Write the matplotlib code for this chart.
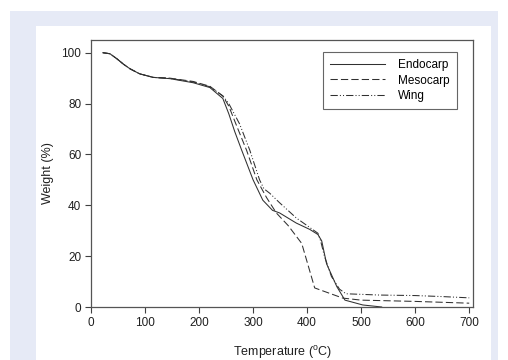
import matplotlib.pyplot as plt
from matplotlib.patches import Rectangle

plt.rcParams['font.family'] = ['Liberation Sans', 'DejaVu Sans']
plt.rcParams['mathtext.default'] = 'regular'

# TGA curves (temperature in C, weight in %)
endo_t = [22, 35, 48, 60, 72, 90, 115, 146, 189, 220, 244, 255, 266, 279, 300, 318, 336, 349,
          380, 405, 420, 427, 436, 455, 470, 503, 538]
endo_w = [100, 99.6, 97.6, 95.5, 93.7, 91.7, 90.3, 89.8, 88.2, 86.3, 82, 76, 69, 61.6, 50, 42, 38, 37,
          33, 30.5, 28.5, 26, 17, 8, 2.7, 0.8, 0]

meso_t = [22, 35, 48, 60, 72, 90, 115, 146, 189, 220, 244, 255, 270, 288, 307, 325, 343, 365,
          390, 414, 440, 466, 500, 600, 700]
meso_w = [100, 99.6, 97.6, 95.5, 93.7, 91.7, 90.3, 90.0, 88.7, 86.8, 83, 79, 71, 61.6, 50, 43, 37, 32,
          25, 7.5, 5.5, 3.5, 2.7, 2.2, 1.5]

wing_t = [22, 35, 48, 60, 72, 90, 115, 146, 189, 220, 244, 255, 275, 294, 312, 320, 331, 349,
          380, 410, 420, 425, 432, 445, 460, 472, 534, 600, 650, 700]
wing_w = [100, 99.6, 97.6, 95.5, 93.7, 91.7, 90.3, 89.9, 88.5, 86.6, 83, 80, 72, 61.6, 50, 46.5, 44.7, 41,
          35, 30.5, 29, 26, 20, 12, 7, 5.2, 4.7, 4.5, 4.1, 3.6]

x_ticks = [0, 100, 200, 300, 400, 500, 600, 700]
y_ticks = [0, 20, 40, 60, 80, 100]

W, H = 508, 360
fig = plt.figure(figsize=(W / 100, H / 100), dpi=100, facecolor='white')

# page frame: lavender band with white panel
fig.patches.append(Rectangle((10 / W, 0), 488 / W, 349 / H, transform=fig.transFigure,
                             facecolor='#e6eaf6', edgecolor='none', zorder=-2))
fig.patches.append(Rectangle((36 / W, 0), 455 / W, 334 / H, transform=fig.transFigure,
                             facecolor='white', edgecolor='none', zorder=-1))

ax = fig.add_axes([91 / W, (H - 307) / H, (473 - 91) / W, (307 - 40) / H])
ax.set_facecolor('none')

lw = 0.75
ax.plot(endo_t, endo_w, color='#303030', lw=lw, ls='-', label='Endocarp')
ax.plot(meso_t, meso_w, color='#303030', lw=lw, ls=(0, (7, 3)), label='Mesocarp')
ax.plot(wing_t, wing_w, color='#303030', lw=lw, ls=(0, (7, 2, 1, 2, 1, 2)), label='Wing')

ax.set_xlim(0, 707)
ax.set_ylim(0, 105)
ax.set_xticks(x_ticks)
ax.set_yticks(y_ticks)
ax.tick_params(direction='out', length=4, width=0.8, color='#404040', labelsize=8.5, pad=3,
               labelcolor='#202020')
for s in ax.spines.values():
    s.set_color('#555555')
    s.set_linewidth(0.9)

ax.set_xlabel('Temperature ($^{o}$C)', fontsize=9, color='#202020', labelpad=11)
ax.set_ylabel('Weight (%)', fontsize=9, color='#202020', labelpad=5)

leg = ax.legend(loc='upper right', bbox_to_anchor=(457 / W, (H - 52) / H),
                bbox_transform=fig.transFigure, fontsize=8.5, frameon=True, fancybox=False,
                handlelength=4.7, handletextpad=1.1, borderpad=0.6, labelspacing=0.3,
                borderaxespad=0)
leg.get_frame().set_edgecolor('#404040')
leg.get_frame().set_linewidth(0.8)

fig.savefig('out.png', dpi=100, facecolor='white')
